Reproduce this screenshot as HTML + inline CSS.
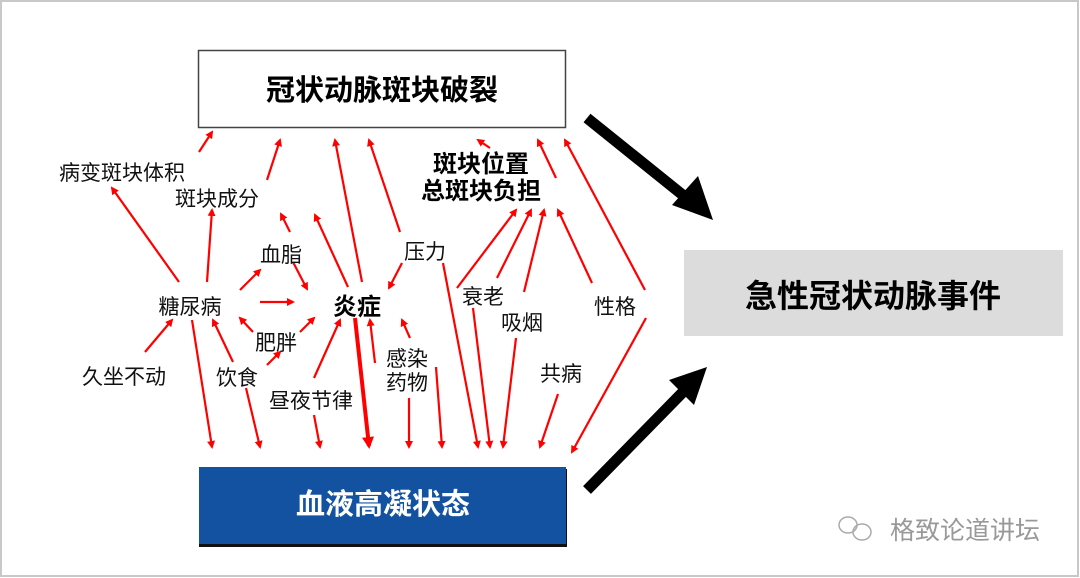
<!DOCTYPE html>
<html><head><meta charset="utf-8"><style>
html,body{margin:0;padding:0;background:#fff;}
body{width:1080px;height:578px;overflow:hidden;position:relative;font-family:"Liberation Sans","Noto Sans CJK SC",sans-serif;}
</style></head><body>
<svg width="1080" height="578" viewBox="0 0 1080 578" xmlns="http://www.w3.org/2000/svg" style="position:absolute;left:0;top:0">
<defs>
<marker id="r" markerWidth="8" markerHeight="8" refX="6" refY="4" orient="auto" markerUnits="userSpaceOnUse"><path d="M0,0 L8,4 L0,8 Z" fill="#f00"/></marker>
<marker id="rb" markerWidth="12" markerHeight="12" refX="9" refY="6" orient="auto" markerUnits="userSpaceOnUse"><path d="M0,0 L12,6 L0,12 Z" fill="#f00"/></marker>
</defs>
<rect x="1" y="1" width="1077" height="575" fill="none" stroke="#c8c8c8" stroke-width="2"/>
<rect x="198.5" y="50.5" width="367" height="77" fill="#fff" stroke="#444" stroke-width="1.5"/>
<text x="382" y="100" font-size="29" font-weight="bold" text-anchor="middle" fill="#000">冠状动脉斑块破裂</text>
<rect x="684" y="250" width="379" height="86" fill="#dcdcdc"/>
<text x="873" y="307" font-size="32" font-weight="bold" text-anchor="middle" fill="#000">急性冠状动脉事件</text>
<rect x="199" y="469" width="368" height="78" fill="#111"/>
<rect x="199" y="467" width="367" height="77" fill="#1352a0"/>
<text x="383" y="514" font-size="29" font-weight="bold" text-anchor="middle" fill="#fff">血液高凝状态</text>
<line x1="587" y1="118" x2="684" y2="196" stroke="#000" stroke-width="11"/>
<polygon points="713,220 672,205 698,176" fill="#000"/>
<line x1="587" y1="490" x2="684" y2="391" stroke="#000" stroke-width="11"/>
<polygon points="707,367 694,405 669,380" fill="#000"/>
<g stroke="#f00" stroke-width="2.2" fill="none" marker-end="url(#r)">
<line x1="199" y1="152" x2="212" y2="132"/>
<line x1="267" y1="180" x2="280" y2="140"/>
<line x1="179" y1="282" x2="112" y2="188"/>
<line x1="207" y1="282" x2="212" y2="210"/>
<line x1="240" y1="290" x2="260" y2="270"/>
<line x1="260" y1="302" x2="293" y2="302"/>
<line x1="293" y1="262" x2="307" y2="289"/>
<line x1="290" y1="232" x2="281" y2="214"/>
<line x1="348" y1="287" x2="315" y2="215"/>
<line x1="362" y1="282" x2="335" y2="140"/>
<line x1="400" y1="232" x2="369" y2="140"/>
<line x1="402" y1="263" x2="389" y2="288"/>
<line x1="145" y1="352" x2="172" y2="320"/>
<line x1="233" y1="362" x2="213" y2="320"/>
<line x1="253" y1="332" x2="240" y2="318"/>
<line x1="300" y1="332" x2="314" y2="318"/>
<line x1="267" y1="365" x2="280" y2="352"/>
<line x1="314" y1="378" x2="340" y2="320"/>
<line x1="192" y1="320" x2="212" y2="447"/>
<line x1="246" y1="388" x2="260" y2="447"/>
<line x1="314" y1="415" x2="320" y2="447"/>
<line x1="375" y1="363" x2="370" y2="320"/>
<line x1="410" y1="338" x2="402" y2="320"/>
<line x1="409" y1="398" x2="409" y2="447"/>
<line x1="436" y1="367" x2="442" y2="447"/>
<line x1="443" y1="263" x2="478" y2="447"/>
<line x1="473" y1="308" x2="490" y2="447"/>
<line x1="516" y1="338" x2="503" y2="447"/>
<line x1="558" y1="394" x2="540" y2="447"/>
<line x1="646" y1="318" x2="572" y2="452"/>
<line x1="457" y1="288" x2="516" y2="210"/>
<line x1="497" y1="278" x2="531" y2="210"/>
<line x1="524" y1="292" x2="544" y2="210"/>
<line x1="592" y1="283" x2="558" y2="210"/>
<line x1="645" y1="290" x2="565" y2="140"/>
<line x1="556" y1="178" x2="538" y2="140"/>
<line x1="490" y1="148" x2="478" y2="140"/>
</g>
<line x1="355" y1="318" x2="369" y2="446" stroke="#f00" stroke-width="4" marker-end="url(#rb)"/>
<g font-size="21" fill="#111" text-anchor="middle">
<text x="122" y="180">病变斑块体积</text>
<text x="217" y="206">斑块成分</text>
<text x="281" y="262">血脂</text>
<text x="190" y="314">糖尿病</text>
<text x="276" y="350">肥胖</text>
<text x="124" y="384">久坐不动</text>
<text x="237" y="385">饮食</text>
<text x="311" y="408">昼夜节律</text>
<text x="407" y="366">感染</text>
<text x="407" y="390">药物</text>
<text x="425" y="259">压力</text>
<text x="483" y="304">衰老</text>
<text x="522" y="330">吸烟</text>
<text x="615" y="314">性格</text>
<text x="561" y="381">共病</text>
</g>
<text x="357" y="315" font-size="24" font-weight="bold" text-anchor="middle" fill="#000">炎症</text>
<text x="481" y="172" font-size="24" font-weight="bold" text-anchor="middle" fill="#000">斑块位置</text>
<text x="481" y="199" font-size="24" font-weight="bold" text-anchor="middle" fill="#000">总斑块负担</text>
<g fill="none" stroke="#aaa" stroke-width="1.5">
<ellipse cx="848" cy="525" rx="9" ry="8"/>
<ellipse cx="862" cy="532" rx="9" ry="8"/>
</g>
<text x="965" y="539" font-size="25" text-anchor="middle" fill="#999">格致论道讲坛</text>
</svg>
</body></html>
